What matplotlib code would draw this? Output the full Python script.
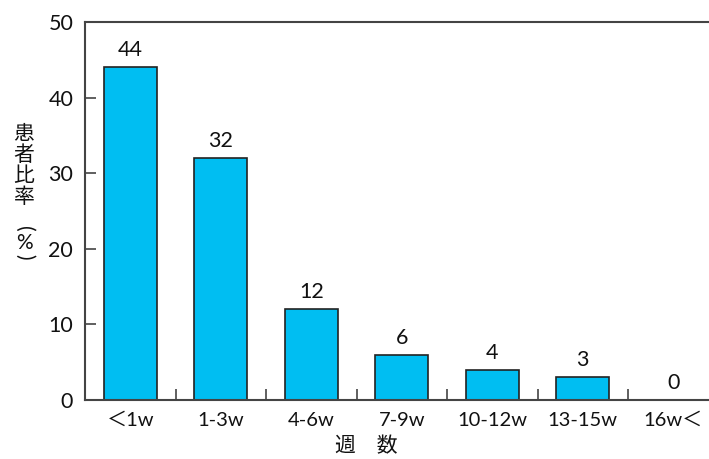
import matplotlib
matplotlib.use("Agg")
import matplotlib.pyplot as plt
import numpy as np

categories = ["＜1w", "1-3w", "4-6w", "7-9w", "10-12w", "13-15w", "16w＜"]
values = [44, 32, 12, 6, 4, 3, 0]
yticks = [0, 10, 20, 30, 40, 50]
ylabel_chars = ["患", "者", "比", "率"]
ylabel_pos = [134, 155, 176, 197]  # pixel centres from top
paren_parts = [("(", 229, -90, 15), ("%", 243, 0, 15), (")", 257, -90, 15)]
xlabel = "週　数"

FAM = ["Lato", "Noto Sans CJK JP", "DejaVu Sans"]
CJK = ["Noto Sans CJK JP", "DejaVu Sans"]
plt.rcParams["font.family"] = FAM

W, H = 709, 459
fig = plt.figure(figsize=(W / 100, H / 100), dpi=100)
ax = fig.add_axes([85 / W, 1 - 400 / H, (W - 85) / W, (400 - 22) / H])

x = np.arange(len(categories))
ax.bar(x, values, width=0.585, color="#00bef2", edgecolor="#222222", linewidth=1.2)

for xi, v in zip(x, values):
    ax.annotate(str(v), (xi, v), xytext=(0, 5), textcoords="offset points",
                ha="center", va="bottom", fontsize=15.5, color="#111111")

ax.set_xlim(-0.5, 6.395)
ax.set_ylim(0, 50)
ax.set_yticks(yticks)
ax.set_xticks(x)
ax.set_xticklabels(categories, fontsize=14.5)
ax.set_xticks(x[:-1] + 0.5, minor=True)

spine_c = "#444444"
for s in ["left", "bottom", "top"]:
    ax.spines[s].set_color(spine_c)
    ax.spines[s].set_linewidth(1.5)
ax.spines["right"].set_visible(False)

ax.tick_params(axis="y", direction="in", length=8, width=1.2, color=spine_c,
               pad=8.5, labelsize=15.5, labelcolor="#111111")
ax.tick_params(axis="x", which="major", length=0, pad=8.5, labelcolor="#111111")
ax.tick_params(axis="x", which="minor", direction="in", length=8, width=1.2, color=spine_c)

for ch, py in zip(ylabel_chars, ylabel_pos):
    fig.text(24 / W, 1 - py / H, ch, ha="center", va="center",
             fontsize=15, family=CJK, color="#111111")
for ch, py, rot, fs in paren_parts:
    fig.text(24 / W, 1 - py / H, ch, ha="center", va="center", rotation=rot,
             rotation_mode="anchor", fontsize=fs, family=["Lato", "DejaVu Sans"],
             color="#111111")
fig.text(366 / W, 1 - 446 / H, xlabel, ha="center", va="center", fontsize=15,
         family=CJK, color="#111111")

fig.savefig("out.png", dpi=100)
